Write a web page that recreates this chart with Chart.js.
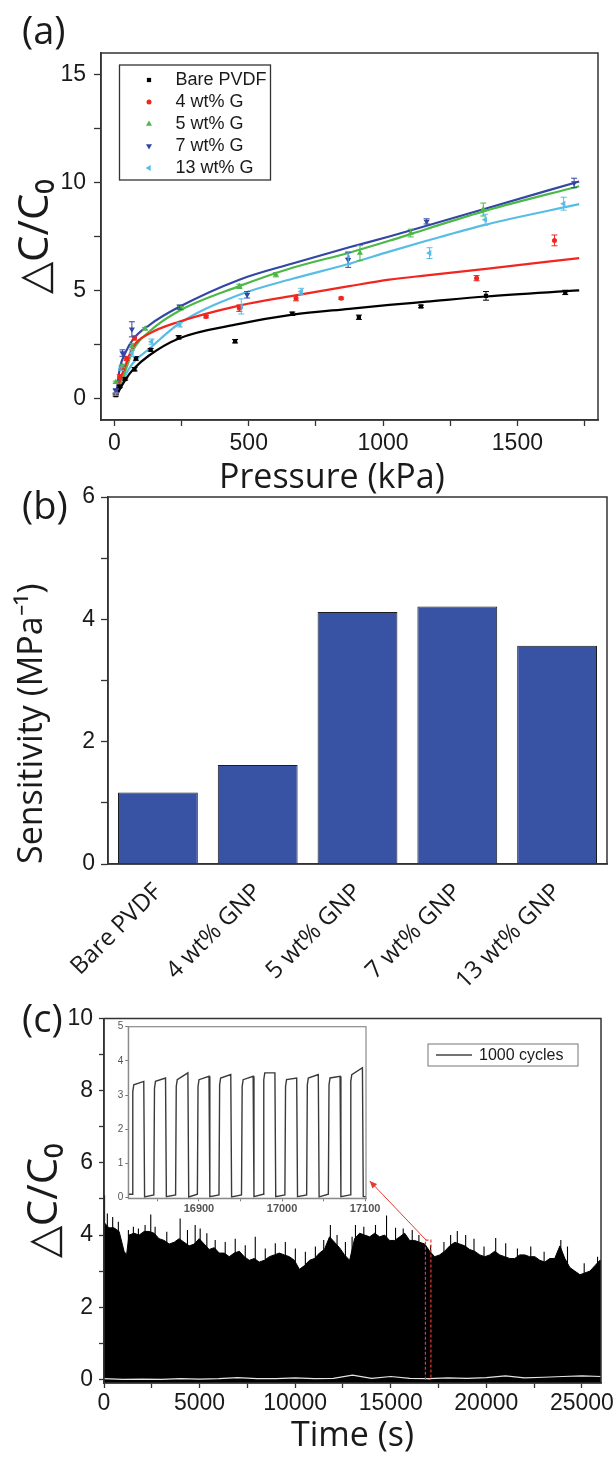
<!DOCTYPE html>
<html>
<head>
<meta charset="utf-8">
<script src="https://cdn.jsdelivr.net/npm/chart.js@4.4.1/dist/chart.umd.min.js"></script>
<style>
  body { margin: 0; background: #fff; }
  #wrap { position: relative; width: 615px; height: 1461px; }
  canvas { position: absolute; }
</style>
</head>
<body>
<div id="wrap">
  <canvas id="chartA" width="615" height="505" style="left:0;top:0"></canvas>
  <canvas id="chartB" width="615" height="520" style="left:0;top:480px"></canvas>
  <canvas id="chartC" width="615" height="461" style="left:0;top:1000px"></canvas>
  <canvas id="chartInset" width="280" height="205" style="left:100px;top:1015px"></canvas>
</div>
<script>
// ---------- (a) capacitance change vs pressure ----------
const xTicksA = [0, 250, 500, 750, 1000, 1250, 1500, 1750];
const yTicksA = [0, 2.5, 5, 7.5, 10, 12.5, 15];

const pvdfX = [5, 20, 40, 75, 80, 135, 239, 449, 662, 910, 1141, 1383, 1678];
const pvdfY = [0.15, 0.55, 0.9, 1.35, 1.85, 2.25, 2.83, 2.65, 3.92, 3.76, 4.26, 4.75, 4.91];
const pvdfErr = [0.05, 0.05, 0.05, 0.08, 0.08, 0.06, 0.08, 0.08, 0.08, 0.1, 0.06, 0.2, 0.1];

const g4X = [5, 20, 30, 45, 75, 341, 465, 676, 844, 1348, 1638];
const g4Y = [0.2, 1.0, 1.4, 1.85, 2.8, 3.79, 4.18, 4.64, 4.64, 5.57, 7.32];
const g4Err = [0.05, 0.1, 0.1, 0.1, 0.1, 0.06, 0.15, 0.12, 0.05, 0.12, 0.25];

const g5X = [5, 30, 65, 114, 248, 465, 601, 914, 1103, 1373];
const g5Y = [0.75, 1.5, 2.4, 3.23, 4.18, 5.19, 5.73, 6.73, 7.66, 8.75];
const g5Err = [0.05, 0.08, 0.15, 0.06, 0.08, 0.1, 0.1, 0.35, 0.18, 0.3];

const g7X = [5, 30, 65, 243, 494, 870, 1162, 1711];
const g7Y = [0.35, 2.1, 3.2, 4.23, 4.8, 6.42, 8.2, 9.98];
const g7Err = [0.1, 0.15, 0.35, 0.1, 0.15, 0.35, 0.12, 0.22];

const g13X = [5, 25, 65, 138, 243, 472, 695, 870, 1173, 1380, 1672];
const g13Y = [0.2, 1.4, 2.1, 2.63, 3.41, 4.26, 4.95, 6.5, 6.73, 8.28, 9.02];
const g13Err = [0.05, 0.1, 0.15, 0.12, 0.1, 0.35, 0.15, 0.3, 0.25, 0.25, 0.3];

// fitted curves
const fitX = [8, 20, 40, 70, 130, 240, 465, 663, 874, 1023, 1162, 1383, 1730];
const fitPvdf = [0.1, 0.42, 0.85, 1.35, 2.0, 2.78, 3.45, 3.88, 4.15, 4.33, 4.48, 4.72, 5.0];
const fitG4 = [0.15, 0.8, 1.5, 2.4, 3.0, 3.55, 4.3, 4.75, 5.2, 5.5, 5.7, 6.0, 6.5];
const fitG5 = [0.1, 0.55, 1.25, 2.25, 3.1, 4.05, 5.2, 6.05, 6.75, 7.3, 7.85, 8.7, 9.83];
const fitG7 = [0.3, 1.4, 2.1, 2.75, 3.4, 4.23, 5.5, 6.25, 7.0, 7.5, 8.0, 8.8, 10.05];
const fitG13 = [0.15, 0.5, 1.05, 1.65, 2.3, 3.46, 4.8, 5.54, 6.24, 6.8, 7.3, 8.05, 9.0];

// ---------- (b) sensitivity ----------
const groups = ['Bare PVDF', '4 wt% GNP', '5 wt% GNP', '7 wt% GNP', '13 wt% GNP'];
const sensitivity = [1.17, 1.62, 4.12, 4.21, 3.57];
const yTicksB = [0, 1, 2, 3, 4, 5, 6];

// ---------- (c) 1000 cycles ----------
const xTicksC = [0, 2500, 5000, 7500, 10000, 12500, 15000, 17500, 20000, 22500, 25000];
const yTicksC = [0, 1, 2, 3, 4, 5, 6, 7, 8, 9, 10];

const mainT = [0, 260, 520, 790, 1050, 1180, 1310, 1570, 1840, 2100,
  2360, 2620, 2880, 3150, 3410, 3670, 3930, 4190, 4460, 4720,
  4980, 5240, 5500, 5770, 6030, 6290, 6550, 6810, 7080, 7340,
  7600, 7860, 8120, 8390, 8650, 8910, 9170, 9430, 9700, 9960,
  10220, 10480, 10750, 11010, 11270, 11530, 11800, 12060, 12320, 12580,
  12850, 13110, 13370, 13630, 13900, 14160, 14420, 14680, 14940, 15200,
  15470, 15730, 15990, 16250, 16510, 16780, 17040, 17300, 17560, 17820,
  18090, 18350, 18610, 18870, 19130, 19390, 19660, 19920, 20180, 20440,
  20700, 20960, 21230, 21490, 21750, 22010, 22270, 22540, 22800, 23060,
  23320, 23580, 23850, 24110, 24370, 24630, 24900, 25160, 25420, 25680,
  25940, 26000];
const mainTop = [4.35, 4.2, 4.2, 4.1, 3.55, 3.45, 4.0, 4.05, 4.0, 4.1,
  4.1, 4.05, 3.9, 3.85, 3.75, 3.8, 3.9, 3.8, 3.7, 3.75,
  3.9, 3.75, 3.6, 3.65, 3.5, 3.5, 3.4, 3.5, 3.55, 3.4,
  3.3, 3.35, 3.25, 3.3, 3.4, 3.45, 3.5, 3.45, 3.4, 3.3,
  3.05, 3.15, 3.3, 3.35, 3.5, 3.6, 3.95, 3.8, 3.65, 3.45,
  3.3, 3.9, 4.05, 4.0, 3.95, 4.05, 3.95, 4.0, 3.85, 3.85,
  3.95, 4.05, 3.85, 3.85, 3.8, 3.75, 3.55, 3.4, 3.45, 3.55,
  3.7, 3.8, 3.75, 3.7, 3.6, 3.55, 3.45, 3.4, 3.45, 3.55,
  3.45, 3.4, 3.35, 3.35, 3.45, 3.45, 3.4, 3.4, 3.3, 3.25,
  3.35, 3.35, 3.7, 3.35, 3.1, 3.0, 2.9, 2.95, 3.0, 3.15,
  3.3, 3.3];

const spikeT = [30, 175, 454, 751, 1276, 1537, 1800, 2149, 2446, 2673,
  3284, 3983, 4367, 4769, 5031, 5380, 5817, 6341, 6865, 7389,
  7913, 8437, 8961, 9486, 10010, 10534, 11058, 11494, 11843, 12192,
  12629, 12978, 13155, 13592, 14203, 14780, 15251, 15653, 16125, 16474,
  17085, 17784, 18134, 18483, 18920, 19356, 19880, 20491, 21015, 21627,
  22325, 23024, 23898, 24247, 25121, 25819];
const spikeTop = [5.1, 4.6, 4.5, 4.37, 4.14, 4.23, 4.18, 4.28, 4.57, 4.23,
  4.09, 4.46, 4.14, 4.28, 4.18, 4.05, 3.86, 3.81, 3.9, 3.72,
  3.95, 3.63, 3.77, 3.81, 3.63, 3.54, 3.68, 3.86, 4.28, 4.0,
  3.81, 3.95, 4.28, 4.23, 4.28, 4.54, 4.2, 4.18, 4.14, 4.0,
  3.72, 3.81, 4.0, 4.11, 4.0, 3.9, 3.68, 3.92, 3.77, 3.63,
  3.68, 3.54, 3.86, 3.68, 3.22, 3.4];

// the thin pale line along the bottom of the trace
const lowT = [0, 1000, 2000, 3000, 4000, 5000, 6000, 7000, 8000, 9000, 10000, 11000, 12000, 13000,
  14000, 15000, 16000, 17000, 18000, 19000, 20000, 21000, 22000, 23000, 24000, 25000, 26000];
const lowV = [0.02, 0.0, 0.01, 0.0, 0.02, 0.01, 0.02, 0.05, 0.02, 0.02, 0.04, 0.02, 0.03, 0.12,
  0.03, 0.08, 0.03, 0.02, 0.04, 0.03, 0.05, 0.1, 0.04, 0.06, 0.08, 0.1, 0.08];

// zoomed window and arrow
const insetRange = [16815, 17101];
const zoomTop = 3.86;
const arrowFrom = [16850, 3.86];
const arrowTo = [13900, 5.5];

// inset pulses
const insetXTicks = [16850, 16900, 16950, 17000, 17050, 17100];
const insetYTicks = [0, 1, 2, 3, 4, 5];
const riseT = [16819.6, 16845.7, 16871.9, 16898.1, 16924.1, 16951.2, 16977.2, 17003.4, 17029.6, 17055.7, 17081.9];
const fallT = [16833.6, 16859.8, 16886.7, 16912.1, 16938.3, 16965.2, 16991.4, 17017.6, 17043.6, 17069.8, 17096.7];
const hiStart = [3.3, 3.4, 3.45, 3.45, 3.5, 3.45, 3.65, 3.45, 3.5, 3.5, 3.6];
const hiEnd = [3.4, 3.5, 3.65, 3.55, 3.6, 3.55, 3.65, 3.5, 3.6, 3.55, 3.8];
const lowBefore = [0.1, 0.08, 0.08, 0.1, 0.08, 0.08, 0.1, 0.08, 0.08, 0.1, 0.08];
const lowAfter = [0.02, 0.03, 0.02, 0.03, 0.02, 0.03, 0.03, 0.03, 0.02, 0.03, 0.03];

// ---------- helpers ----------
const FRAME = '#333';
const TEXT = '#1a1a1a';
const tickFont = {family: 'Liberation Sans', size: 23};
const titleFont = {family: 'Open Sans', size: 34};

const pts = (xs, ys) => xs.map((x, i) => ({x, y: ys[i]}));
const setTicks = values => axis => { axis.ticks = values.map(v => ({value: v})); };
const fixW = w => axis => { axis.width = w; axis.paddingTop = 0; axis.paddingBottom = 0; };
const fixH = h => axis => { axis.height = h; axis.paddingLeft = 0; axis.paddingRight = 0; };

const frame = {
  id: 'frame',
  afterDraw(chart, args, opts){
    const {ctx, chartArea: a} = chart;
    ctx.save();
    ctx.strokeStyle = opts.color;
    ctx.lineWidth = opts.width;
    ctx.strokeRect(a.left, a.top, a.right - a.left, a.bottom - a.top);
    ctx.restore();
  },
  defaults: {color: FRAME, width: 1.5}
};

const panelLabel = {
  id: 'panelLabel',
  afterDraw(chart, args, opts){
    if(!opts.text) return;
    const ctx = chart.ctx;
    ctx.save();
    ctx.font = '38px "Open Sans"';
    ctx.fillStyle = TEXT;
    ctx.textBaseline = 'middle';
    ctx.fillText(opts.text, opts.x, opts.y);
    ctx.restore();
  }
};

const errorBars = {
  id: 'errorBars',
  afterDatasetsDraw(chart){
    const {ctx} = chart;
    const ys = chart.scales.y;
    chart.data.datasets.forEach((ds, i) => {
      if(!ds.errors) return;
      const meta = chart.getDatasetMeta(i);
      ctx.save();
      ctx.strokeStyle = ds.borderColor;
      ctx.lineWidth = 1;
      meta.data.forEach((pt, j) => {
        const e = ds.errors[j];
        if(!e) return;
        const v = ds.data[j].y;
        const y1 = ys.getPixelForValue(v - e), y2 = ys.getPixelForValue(v + e);
        ctx.beginPath();
        ctx.moveTo(pt.x, y1); ctx.lineTo(pt.x, y2);
        ctx.moveTo(pt.x - 3, y1); ctx.lineTo(pt.x + 3, y1);
        ctx.moveTo(pt.x - 3, y2); ctx.lineTo(pt.x + 3, y2);
        ctx.stroke();
      });
      ctx.restore();
    });
  }
};

const boxLegend = {
  id: 'boxLegend',
  afterDraw(chart, args, o){
    const ctx = chart.ctx;
    ctx.save();
    ctx.fillStyle = '#fff';
    ctx.fillRect(o.x, o.y, o.w, o.h);
    ctx.strokeStyle = FRAME;
    ctx.lineWidth = 1.3;
    ctx.strokeRect(o.x, o.y, o.w, o.h);
    ctx.font = '18px "Liberation Sans"';
    ctx.textBaseline = 'middle';
    chart.data.datasets.filter(d => d.inLegend).forEach((d, i) => {
      const cy = o.y + o.first + i * o.step;
      ctx.fillStyle = d.backgroundColor;
      Chart.helpers.drawPoint(ctx, {pointStyle: d.pointStyle, rotation: d.pointRotation || 0, radius: d.pointRadius, borderWidth: 0}, o.x + o.mark, cy);
      ctx.fillStyle = TEXT;
      ctx.fillText(d.label, o.x + o.text, cy);
    });
    ctx.restore();
  }
};

const zoomMark = {
  id: 'zoomMark',
  afterDatasetsDraw(chart){
    const {ctx, scales: {x, y}} = chart;
    const l = x.getPixelForValue(insetRange[0]), r = x.getPixelForValue(insetRange[1]);
    const t = y.getPixelForValue(zoomTop), b = y.getPixelForValue(0);
    ctx.save();
    ctx.strokeStyle = '#e8392e';
    ctx.lineWidth = 1.2;
    ctx.setLineDash([3, 2]);
    ctx.strokeRect(l, t, r - l, b - t);
    ctx.setLineDash([]);
    const x0 = x.getPixelForValue(arrowFrom[0]), y0 = y.getPixelForValue(arrowFrom[1]);
    const x1 = x.getPixelForValue(arrowTo[0]), y1 = y.getPixelForValue(arrowTo[1]);
    ctx.lineWidth = 1;
    ctx.beginPath(); ctx.moveTo(x0, y0); ctx.lineTo(x1, y1); ctx.stroke();
    const ang = Math.atan2(y1 - y0, x1 - x0);
    ctx.fillStyle = '#e8392e';
    ctx.beginPath();
    ctx.moveTo(x1, y1);
    ctx.lineTo(x1 - 8 * Math.cos(ang - 0.4), y1 - 8 * Math.sin(ang - 0.4));
    ctx.lineTo(x1 - 8 * Math.cos(ang + 0.4), y1 - 8 * Math.sin(ang + 0.4));
    ctx.closePath(); ctx.fill();
    ctx.restore();
  }
};

const cycleLegend = {
  id: 'cycleLegend',
  afterDraw(chart, args, o){
    const ctx = chart.ctx;
    ctx.save();
    ctx.strokeStyle = '#777';
    ctx.lineWidth = 1;
    ctx.strokeRect(o.x, o.y, o.w, o.h);
    ctx.strokeStyle = '#444';
    ctx.lineWidth = 1.5;
    ctx.beginPath();
    ctx.moveTo(o.x + 8, o.y + o.h / 2); ctx.lineTo(o.x + 44, o.y + o.h / 2);
    ctx.stroke();
    ctx.font = '16px "Liberation Sans"';
    ctx.fillStyle = TEXT;
    ctx.textBaseline = 'middle';
    ctx.fillText(o.text, o.x + 51, o.y + o.h / 2 + 1);
    ctx.restore();
  }
};

const base = {responsive: false, animation: false, devicePixelRatio: 1, events: []};
const axisGrid = {drawOnChartArea: false, tickLength: 7, tickColor: FRAME, tickWidth: 1.3};
const axisBorder = {color: FRAME, width: 1.5};

// ---------- chart (a) ----------
const scatterSet = (label, xs, ys, errs, color, style, rot, r) => ({
  label, data: pts(xs, ys), errors: errs, inLegend: true,
  backgroundColor: color, borderColor: color, pointStyle: style, pointRotation: rot,
  pointRadius: r, pointBorderWidth: 0, showLine: false
});
const fitSet = (ys, color) => ({
  data: pts(fitX, ys), borderColor: color, borderWidth: 2.2, pointRadius: 0,
  showLine: true, cubicInterpolationMode: 'monotone', fill: false
});

new Chart(document.getElementById('chartA'), {
  type: 'scatter',
  data: {
    datasets: [
      scatterSet('Bare PVDF', pvdfX, pvdfY, pvdfErr, '#000000', 'rect', 0, 3),
      scatterSet('4 wt% G', g4X, g4Y, g4Err, '#f0261f', 'circle', 0, 2.5),
      scatterSet('5 wt% G', g5X, g5Y, g5Err, '#4cb847', 'triangle', 0, 3.5),
      scatterSet('7 wt% G', g7X, g7Y, g7Err, '#3446a3', 'triangle', 180, 3.5),
      scatterSet('13 wt% G', g13X, g13Y, g13Err, '#58bde6', 'triangle', -90, 3.5),
      fitSet(fitPvdf, '#000000'),
      fitSet(fitG4, '#f0261f'),
      fitSet(fitG5, '#4cb847'),
      fitSet(fitG7, '#3446a3'),
      fitSet(fitG13, '#58bde6')
    ]
  },
  options: {
    ...base,
    layout: {padding: {top: 53, right: 17, left: 0, bottom: 0}},
    plugins: {
      legend: {display: false}, tooltip: {enabled: false},
      panelLabel: {text: '(a)', x: 22, y: 33},
      boxLegend: {x: 119.5, y: 65, w: 151, h: 115, first: 15, step: 22, mark: 29.5, text: 56}
    },
    scales: {
      x: {
        type: 'linear', min: -50, max: 1800,
        afterBuildTicks: setTicks(xTicksA), afterFit: fixH(85),
        ticks: {callback: v => v % 500 === 0 ? String(v) : '', font: tickFont, color: TEXT, padding: 4, maxRotation: 0, autoSkip: false},
        grid: {...axisGrid, tickLength: 6}, border: axisBorder,
        title: {display: true, text: 'Pressure (kPa)    ', font: titleFont, color: TEXT, padding: {top: 0, bottom: 6}}
      },
      y: {
        min: -1, max: 16,
        afterBuildTicks: setTicks(yTicksA), afterFit: fixW(101),
        ticks: {callback: v => v % 5 === 0 ? String(v) : '', font: tickFont, color: TEXT, padding: 8, autoSkip: false},
        grid: axisGrid, border: axisBorder,
        title: {display: true, text: '△C/C₀', font: {family: 'Open Sans', size: 42}, color: TEXT, padding: {top: 11, bottom: 0}}
      }
    }
  },
  plugins: [frame, panelLabel, errorBars, boxLegend]
});

// ---------- chart (b) ----------
new Chart(document.getElementById('chartB'), {
  type: 'bar',
  data: {
    labels: groups,
    datasets: [{
      data: sensitivity, backgroundColor: '#3953a4', borderColor: '#1c1c1c', borderWidth: 1,
      categoryPercentage: 0.8, barPercentage: 1
    }]
  },
  options: {
    ...base,
    layout: {padding: {top: 17, right: 8, left: 0, bottom: 0}},
    plugins: {
      legend: {display: false}, tooltip: {enabled: false},
      panelLabel: {text: '(b)', x: 22, y: 28}
    },
    scales: {
      x: {
        afterFit: fixH(136),
        ticks: {font: {family: 'Open Sans', size: 24}, color: TEXT, maxRotation: 45, minRotation: 45, padding: 6, autoSkip: false},
        grid: {display: false}, border: axisBorder
      },
      y: {
        min: 0, max: 6,
        afterBuildTicks: setTicks(yTicksB), afterFit: fixW(108),
        ticks: {callback: v => v % 2 === 0 ? String(v) : '', font: tickFont, color: TEXT, padding: 6, autoSkip: false},
        grid: axisGrid, border: axisBorder,
        title: {display: true, text: 'Sensitivity (MPa⁻¹)', align: 'start', font: titleFont, color: TEXT, padding: {top: 12, bottom: 0}}
      }
    }
  },
  plugins: [frame, panelLabel]
});

// ---------- chart (c) ----------
const spikeData = [];
spikeT.forEach((t, i) => { spikeData.push({x: t, y: 2.5}, {x: t, y: spikeTop[i]}, {x: t, y: null}); });

new Chart(document.getElementById('chartC'), {
  type: 'line',
  data: {
    datasets: [
      {data: pts(lowT, lowV), borderColor: '#e4e4e4', borderWidth: 1.2, pointRadius: 0, fill: false},
      {data: spikeData, borderColor: '#000', borderWidth: 1.1, pointRadius: 0, spanGaps: false, fill: false},
      {data: pts(mainT, mainTop), borderColor: '#000', backgroundColor: '#000', borderWidth: 1, pointRadius: 0, fill: 'start'}
    ]
  },
  options: {
    ...base,
    layout: {padding: {top: 18.5, right: 14, left: 0, bottom: 0}},
    plugins: {
      legend: {display: false}, tooltip: {enabled: false},
      panelLabel: {text: '(c)', x: 22, y: 21},
      cycleLegend: {x: 428, y: 44, w: 150, h: 22, text: '1000 cycles'}
    },
    scales: {
      x: {
        type: 'linear', min: 0, max: 26000,
        afterBuildTicks: setTicks(xTicksC), afterFit: fixH(78),
        ticks: {callback: v => v % 5000 === 0 ? String(v) : '', font: tickFont, color: TEXT, padding: 2, maxRotation: 0, autoSkip: false},
        grid: {...axisGrid, tickLength: 5}, border: axisBorder,
        title: {display: true, text: 'Time (s)', font: titleFont, color: TEXT, padding: {top: 0, bottom: 4}}
      },
      y: {
        min: -0.1, max: 10,
        afterBuildTicks: setTicks(yTicksC), afterFit: fixW(104),
        ticks: {callback: v => v % 2 === 0 ? String(v) : '', font: tickFont, color: TEXT, padding: 6, autoSkip: false},
        grid: {...axisGrid, tickLength: 5}, border: axisBorder,
        title: {display: true, text: '△C/C₀', font: {family: 'Open Sans', size: 42}, color: TEXT, padding: {top: 20, bottom: 0}}
      }
    }
  },
  plugins: [frame, panelLabel, zoomMark, cycleLegend]
});

// ---------- inset ----------
const insetData = [{x: insetRange[0], y: lowBefore[0]}];
riseT.forEach((r, i) => {
  insetData.push(
    {x: r, y: lowBefore[i]},
    {x: r + 0.8, y: hiStart[i] - 0.2},
    {x: r + 2, y: hiStart[i]},
    {x: fallT[i], y: hiEnd[i]},
    {x: fallT[i] + 1, y: lowAfter[i]}
  );
});
insetData.push({x: insetRange[1], y: lowAfter[lowAfter.length - 1]});

const insetTick = {family: 'Liberation Sans', size: 11, weight: 'bold'};
new Chart(document.getElementById('chartInset'), {
  type: 'line',
  data: {datasets: [{data: insetData, borderColor: '#3a3a3a', borderWidth: 1.4, pointRadius: 0, fill: false}]},
  options: {
    ...base,
    layout: {padding: {top: 11.7, right: 14, left: 0, bottom: 0}},
    plugins: {legend: {display: false}, tooltip: {enabled: false}, frame: {color: '#8a8a8a', width: 1.2}},
    scales: {
      x: {
        type: 'linear', min: insetRange[0], max: insetRange[1],
        afterBuildTicks: setTicks(insetXTicks), afterFit: fixH(21.7),
        ticks: {callback: v => v % 100 === 0 ? String(v) : '', font: insetTick, color: '#555', padding: 1, maxRotation: 0, autoSkip: false},
        grid: {drawOnChartArea: false, tickLength: 3, tickColor: '#777'}, border: {color: '#8a8a8a', width: 1.2}
      },
      y: {
        min: -0.02, max: 5,
        afterBuildTicks: setTicks(insetYTicks), afterFit: fixW(28.3),
        ticks: {font: {family: 'Liberation Sans', size: 10}, color: '#555', padding: 2, autoSkip: false},
        grid: {drawOnChartArea: false, tickLength: 3, tickColor: '#777'}, border: {color: '#8a8a8a', width: 1.2}
      }
    }
  },
  plugins: [frame]
});
</script>
</body>
</html>
